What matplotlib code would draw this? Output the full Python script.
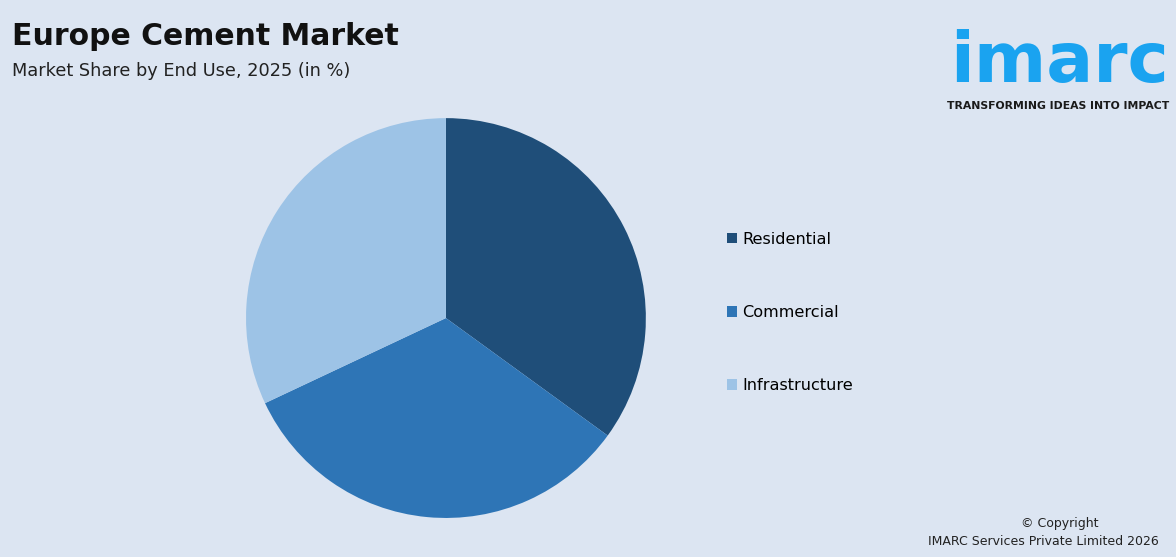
import matplotlib.pyplot as plt
from matplotlib.patches import Patch

BG = "#dce5f2"

labels = ["Residential", "Commercial", "Infrastructure"]
shares = [35, 33, 32]
colors = ["#1f4e79", "#2e75b6", "#9dc3e6"]

fig = plt.figure(figsize=(11.76, 5.57), dpi=100, facecolor=BG)

ax = fig.add_axes([0.2092, 0.070, 0.340, 0.718])
ax.set_facecolor(BG)
ax.pie(shares, colors=colors, startangle=90, counterclock=False,
       wedgeprops=dict(linewidth=0))
ax.set_xlim(-1, 1)
ax.set_ylim(-1, 1)
ax.set_aspect("equal")
ax.axis("off")

handles = [Patch(facecolor=c, edgecolor="none") for c in colors]
fig.legend(handles, labels, loc="upper left", bbox_to_anchor=(0.618, 0.584),
           frameon=False, fontsize=11.6, labelspacing=3.62,
           handlelength=0.62, handleheight=0.62, handletextpad=0.35,
           borderpad=0, borderaxespad=0)

fig.text(0.010, 0.935, "Europe Cement Market", fontsize=21.5, fontweight="bold",
         color="#111111", va="center")
fig.text(0.010, 0.872, "Market Share by End Use, 2025 (in %)", fontsize=12.8,
         color="#222222", va="center")

# logo
fig.text(0.994, 0.852, "imarc", fontsize=50, fontweight="bold",
         color="#1aa3f0", ha="right", va="baseline")
fig.text(0.994, 0.810, "TRANSFORMING IDEAS INTO IMPACT", fontsize=7.8,
         fontweight="bold", color="#1a1a1a", ha="right", va="center")

fig.text(0.901, 0.061, "\u00a9 Copyright", fontsize=9, color="#222222",
         ha="center", va="center")
fig.text(0.985, 0.028, "IMARC Services Private Limited 2026", fontsize=9,
         color="#222222", ha="right", va="center")

fig.savefig("out.png", dpi=100, facecolor=BG)
